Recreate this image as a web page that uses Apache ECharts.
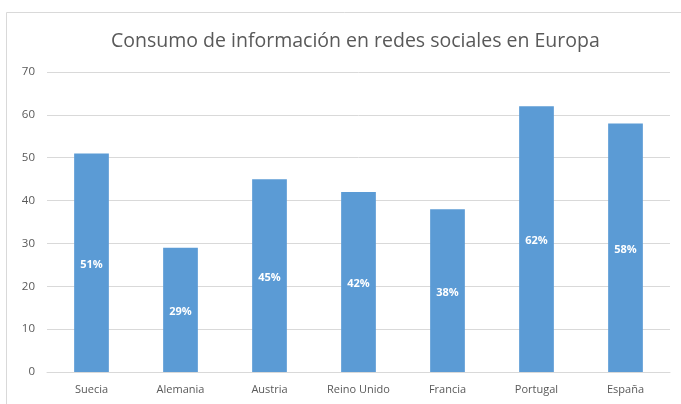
<!DOCTYPE html>
<html>
<head>
<meta charset="utf-8">
<script src="https://cdn.jsdelivr.net/npm/echarts@6/dist/echarts.min.js"></script>
<style>
  html, body { margin: 0; padding: 0; background: #fff; }
  #chart { width: 681px; height: 404px; }
</style>
</head>
<body>
<div id="chart"></div>
<script>
const TITLE_TEXT = 'Consumo de información en redes sociales en Europa';
const countries = ['Suecia', 'Alemania', 'Austria', 'Reino Unido', 'Francia', 'Portugal', 'España'];
const consumo = [51, 29, 45, 42, 38, 62, 58];
const yTicks = [0, 10, 20, 30, 40, 50, 60, 70];

const BAR_COLOR = '#5b9bd5';
const TEXT_COLOR = '#595959';
const FONT = '"Open Sans", "Liberation Sans", sans-serif';

let chart = echarts.init(document.getElementById('chart'));

chart.setOption({
    animation: false,
    backgroundColor: '#fff',
    title: {
        text: TITLE_TEXT,
        left: 106,
        top: 26,
        textStyle: {
            color: TEXT_COLOR,
            fontFamily: FONT,
            fontSize: 19.5,
            fontWeight: 'normal'
        }
    },
    // chart frame, like the spreadsheet chart border
    graphic: [{
        type: 'rect',
        shape: { x: 6.5, y: 12.5, width: 700, height: 420 },
        style: { fill: 'none', stroke: '#d9d9d9', lineWidth: 1 },
        silent: true
    }],
    grid: {
        left: 47,
        right: 11,
        top: 72,
        bottom: 32
    },
    xAxis: {
        type: 'category',
        data: countries,
        axisLine: { lineStyle: { color: '#d9d9d9' } },
        axisTick: { show: false },
        axisLabel: {
            color: TEXT_COLOR,
            fontFamily: FONT,
            fontSize: 11,
            margin: 12
        }
    },
    yAxis: {
        type: 'value',
        min: yTicks[0],
        max: yTicks[yTicks.length - 1],
        interval: 10,
        axisLine: { show: false },
        axisTick: { show: false },
        splitLine: { lineStyle: { color: '#d9d9d9' } },
        axisLabel: {
            color: TEXT_COLOR,
            fontFamily: FONT,
            fontSize: 11.5,
            margin: 12
        }
    },
    series: [{
        type: 'bar',
        data: consumo,
        barWidth: '39%',
        itemStyle: { color: BAR_COLOR },
        label: {
            show: true,
            position: 'inside',
            offset: [0, 2],
            formatter: '{c}%',
            color: '#fff',
            fontFamily: FONT,
            fontWeight: 'bold',
            fontSize: 11
        }
    }]
});

window.addEventListener('resize', function () {
    chart.resize();
});
</script>
</body>
</html>
